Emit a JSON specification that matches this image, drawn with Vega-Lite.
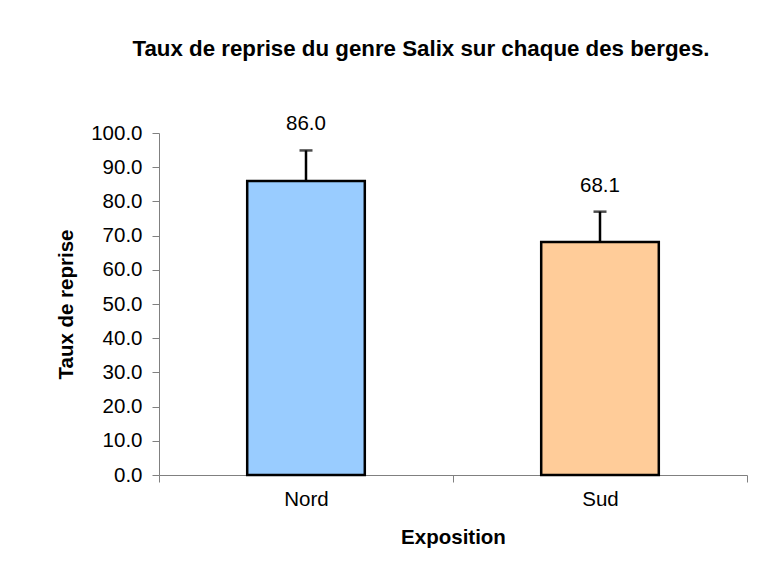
{
  "$schema": "https://vega.github.io/schema/vega-lite/v6.json",
  "autosize": "none",
  "width": 588,
  "height": 342,
  "padding": {"left": 159, "top": 133, "right": 12, "bottom": 98},
  "background": "white",
  "config": {
    "font": "Liberation Sans",
    "view": {"stroke": null},
    "axisY": {"labelOverlap": false, "tickCount": 11}
  },
  "title": {
    "text": "Taux de reprise du genre Salix sur chaque des berges.",
    "fontSize": 22.3,
    "fontWeight": "bold",
    "color": "black",
    "anchor": "middle",
    "dx": -32,
    "offset": 54
  },
  "data": {
    "values": [
      {"Exposition": "Nord", "taux": 86.0, "haut": 94.9},
      {"Exposition": "Sud", "taux": 68.1, "haut": 77.0}
    ]
  },
  "encoding": {
    "x": {
      "field": "Exposition",
      "type": "nominal",
      "scale": {"paddingInner": 0, "paddingOuter": 0},
      "axis": {
        "title": "Exposition",
        "labelAngle": 0,
        "tickBand": "extent",
        "labelFontSize": 20.5,
        "labelColor": "black",
        "labelPadding": 7,
        "titleFontSize": 20.5,
        "titleFontWeight": "bold",
        "titleColor": "black",
        "titlePadding": 18,
        "domainColor": "#808080",
        "tickColor": "#808080",
        "tickSize": 7
      }
    }
  },
  "layer": [
    {
      "mark": {"type": "bar", "width": {"band": 0.4}, "stroke": "black", "strokeWidth": 2.5},
      "encoding": {
        "y": {
          "field": "taux",
          "type": "quantitative",
          "scale": {"domain": [0, 100]},
          "axis": {
            "title": "Taux de reprise",
            "values": [0, 10, 20, 30, 40, 50, 60, 70, 80, 90, 100],
            "format": ".1f",
            "grid": false,
            "labelOverlap": false,
            "labelFontSize": 20.5,
            "labelColor": "black",
            "labelPadding": 10,
            "titleFontSize": 20.5,
            "titleFontWeight": "bold",
            "titleColor": "black",
            "titlePadding": 14,
            "domainColor": "#808080",
            "tickColor": "#808080",
            "tickSize": 7
          }
        },
        "fill": {
          "field": "Exposition",
          "type": "nominal",
          "scale": {"domain": ["Nord", "Sud"], "range": ["#99CCFF", "#FFCC99"]},
          "legend": null
        }
      }
    },
    {
      "mark": {"type": "rule", "color": "black", "strokeWidth": 2.5},
      "encoding": {
        "y": {"field": "taux", "type": "quantitative"},
        "y2": {"field": "haut"}
      }
    },
    {
      "mark": {"type": "tick", "color": "black", "size": 13, "thickness": 2.5, "orient": "horizontal"},
      "encoding": {
        "y": {"field": "haut", "type": "quantitative"}
      }
    },
    {
      "mark": {"type": "text", "fontSize": 20.5, "color": "black", "baseline": "middle", "dy": -26},
      "encoding": {
        "y": {"field": "haut", "type": "quantitative"},
        "text": {"field": "taux", "type": "quantitative", "format": ".1f"}
      }
    }
  ]
}
